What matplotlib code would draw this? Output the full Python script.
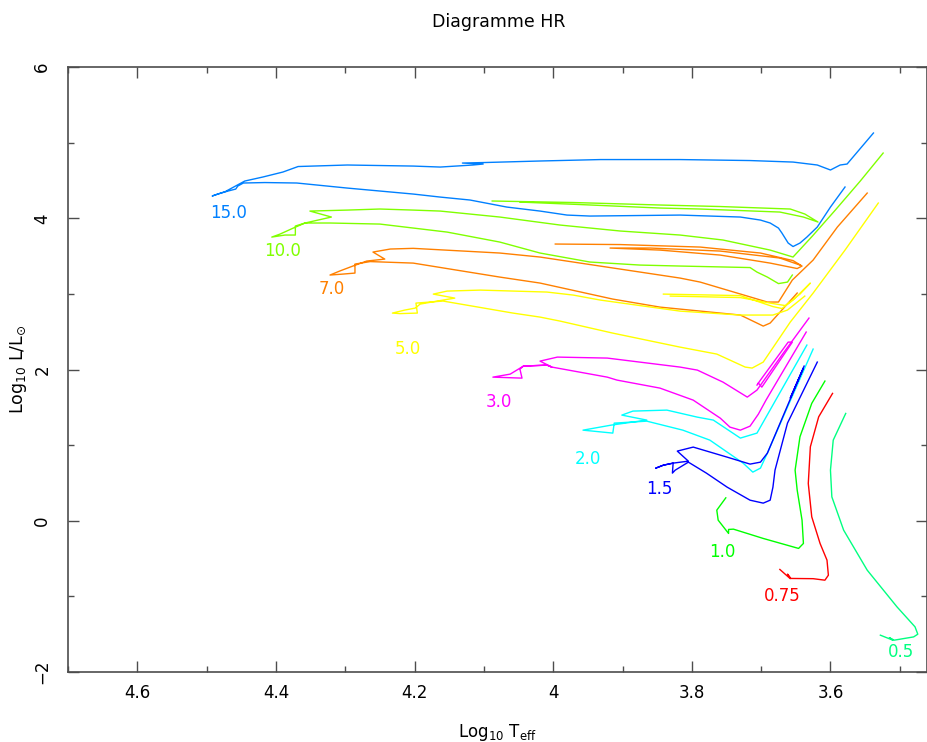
import matplotlib
matplotlib.use('Agg')
import matplotlib.pyplot as plt
from matplotlib.ticker import MultipleLocator, FuncFormatter

# masses of the tracks (labels)
masses = ['15.0', '10.0', '7.0', '5.0', '3.0', '2.0', '1.5', '1.0', '0.75', '0.5']
colors = ['#0080FF', '#80FF00', '#FF8000', '#FFFF00', '#FF00FF',
          '#00FFFF', '#0000FF', '#00FF00', '#FF0000', '#00FF80']

# label positions (log Teff, log L)
lab_t = [4.469, 4.390, 4.319, 4.209, 4.078, 3.950, 3.847, 3.756, 3.670, 3.498]
lab_l = [4.069, 3.566, 3.063, 2.270, 1.569, 0.815, 0.418, -0.415, -0.997, -1.738]

#########################
# 15.0
t15 = [3.579, 3.600, 3.619, 3.634, 3.644, 3.654, 3.661, 3.670, 3.675, 3.687, 3.701, 3.730,
       3.817, 3.947, 3.980, 4.019, 4.067, 4.120, 4.163, 4.202, 4.297, 4.370, 4.416, 4.447,
       4.455, 4.458, 4.469, 4.484, 4.492, 4.473, 4.445, 4.419, 4.390, 4.368, 4.297, 4.202,
       4.163, 4.116, 4.101, 4.131, 4.098, 4.019, 3.932, 3.817, 3.716, 3.654, 3.619, 3.600,
       3.586, 3.576, 3.538]
l15 = [4.413, 4.148, 3.884, 3.751, 3.672, 3.626, 3.672, 3.804, 3.870, 3.937, 3.976, 4.016,
       4.042, 4.029, 4.042, 4.095, 4.148, 4.241, 4.280, 4.320, 4.399, 4.466, 4.472, 4.466,
       4.426, 4.386, 4.360, 4.320, 4.294, 4.353, 4.492, 4.545, 4.611, 4.684, 4.704, 4.690,
       4.677, 4.704, 4.717, 4.730, 4.737, 4.757, 4.776, 4.776, 4.763, 4.743, 4.704, 4.638,
       4.704, 4.717, 5.127]
#########################
# 10.0
t10a = [3.655, 3.662, 3.675, 3.691, 3.706, 3.716, 3.817, 3.875, 3.947, 4.019, 4.077, 4.153,
        4.250, 4.322, 4.358, 4.372, 4.372, 4.387, 4.406, 4.394, 4.375, 4.358, 4.320, 4.351,
        4.297, 4.250, 4.202, 4.163, 4.077, 3.990, 3.903, 3.817, 3.755, 3.687, 3.654, 3.626,
        3.593, 3.557, 3.524]
l10a = [3.249, 3.156, 3.136, 3.222, 3.288, 3.348, 3.368, 3.381, 3.421, 3.540, 3.685, 3.817,
        3.923, 3.937, 3.937, 3.897, 3.778, 3.778, 3.751, 3.791, 3.870, 3.937, 4.016, 4.095,
        4.108, 4.122, 4.108, 4.095, 4.016, 3.910, 3.831, 3.778, 3.712, 3.579, 3.487, 3.765,
        4.108, 4.492, 4.862]
t10b = [4.088, 3.971, 3.846, 3.759, 3.658, 3.637, 3.618, 3.639, 3.673, 3.788, 3.846, 3.961, 4.048]
l10b = [4.228, 4.208, 4.175, 4.155, 4.122, 4.056, 3.950, 4.016, 4.082, 4.122, 4.135, 4.181, 4.214]
#########################
# 7.0
t7a = [3.648, 3.687, 3.697, 3.706, 3.730, 3.846, 3.914, 4.019, 4.077, 4.202, 4.264, 4.286,
       4.286, 4.303, 4.322, 4.308, 4.289, 4.269, 4.243, 4.260, 4.235, 4.202, 4.077, 4.019,
       3.817, 3.788, 3.691, 3.675, 3.655, 3.625, 3.590, 3.547]
l7a = [3.011, 2.614, 2.574, 2.614, 2.720, 2.825, 2.931, 3.143, 3.222, 3.407, 3.427, 3.394,
       3.275, 3.262, 3.249, 3.302, 3.368, 3.434, 3.460, 3.553, 3.593, 3.602, 3.540, 3.487,
       3.209, 3.156, 2.892, 2.892, 3.183, 3.447, 3.884, 4.333]
t7b = [3.997, 3.903, 3.788, 3.701, 3.654, 3.641, 3.648, 3.687, 3.759, 3.846, 3.918, 3.860,
       3.759, 3.673, 3.644]
l7b = [3.659, 3.652, 3.619, 3.540, 3.440, 3.368, 3.335, 3.407, 3.513, 3.579, 3.606, 3.606,
       3.566, 3.474, 3.381]
#########################
# 5.0
t5a = [3.531, 3.579, 3.625, 3.658, 3.697, 3.713, 3.723, 3.764, 3.817, 3.914, 3.990, 4.019,
       4.058, 4.159, 4.198, 4.196, 4.221, 4.232, 4.214, 4.199, 4.192, 4.159, 4.142, 4.173,
       4.153, 4.105, 4.009, 3.971, 3.932, 3.817, 3.730, 3.683, 3.662, 3.637]
l5a = [4.201, 3.579, 3.011, 2.627, 2.098, 2.019, 2.032, 2.204, 2.296, 2.481, 2.640, 2.693,
       2.746, 2.905, 2.878, 2.746, 2.739, 2.746, 2.786, 2.812, 2.865, 2.918, 2.944, 2.997,
       3.037, 3.050, 3.024, 2.984, 2.918, 2.772, 2.720, 2.720, 2.786, 2.971]
t5b = [3.841, 3.730, 3.683, 3.670, 3.654, 3.629, 3.644, 3.665, 3.687, 3.730, 3.831]
l5b = [2.997, 2.977, 2.832, 2.806, 2.918, 3.143, 2.997, 2.845, 2.878, 2.951, 2.971]
#########################
# 3.0
t3a = [3.635, 3.693, 3.704, 3.716, 3.730, 3.745, 3.759, 3.798, 3.846, 3.908, 3.922, 4.002,
       4.009, 4.043, 4.048, 4.045, 4.087, 4.062, 4.043, 4.009, 4.002, 4.019, 3.994, 3.922,
       3.817, 3.792, 3.755, 3.720, 3.706, 3.668, 3.631]
l3a = [2.495, 1.595, 1.410, 1.251, 1.198, 1.238, 1.357, 1.595, 1.754, 1.860, 1.899, 2.032,
       2.058, 2.045, 2.005, 1.886, 1.899, 1.939, 2.045, 2.058, 2.032, 2.111, 2.164, 2.151,
       2.032, 1.992, 1.833, 1.635, 1.728, 2.217, 2.680]
t3b = [3.704, 3.699, 3.655, 3.661, 3.701, 3.706]
l3b = [1.820, 1.767, 2.362, 2.362, 1.860, 1.794]
#########################
# 2.0
t2 = [3.625, 3.662, 3.691, 3.701, 3.712, 3.726, 3.774, 3.813, 3.865, 3.912, 3.914, 3.957,
      3.916, 3.865, 3.901, 3.885, 3.836, 3.792, 3.769, 3.730, 3.706, 3.634]
l2 = [2.270, 1.503, 0.894, 0.696, 0.643, 0.762, 1.066, 1.198, 1.317, 1.291, 1.159, 1.198,
      1.265, 1.331, 1.397, 1.450, 1.463, 1.370, 1.331, 1.093, 1.159, 2.323]
#########################
# 1.5
t1_5 = [3.619, 3.662, 3.680, 3.683, 3.687, 3.697, 3.716, 3.749, 3.779, 3.805, 3.824, 3.828,
        3.827, 3.841, 3.852, 3.841, 3.827, 3.805, 3.821, 3.798, 3.749, 3.716, 3.701, 3.691,
        3.639, 3.658, 3.638]
l1_5 = [2.098, 1.291, 0.669, 0.444, 0.272, 0.233, 0.272, 0.444, 0.630, 0.775, 0.669, 0.630,
        0.762, 0.735, 0.696, 0.735, 0.762, 0.788, 0.921, 0.974, 0.841, 0.749, 0.775, 0.894,
        2.019, 1.622, 2.045]
#########################
# 1.0
t1 = [3.751, 3.764, 3.762, 3.747, 3.747, 3.740, 3.697, 3.646, 3.639, 3.641, 3.648, 3.651,
      3.644, 3.627, 3.608]
l1 = [0.303, 0.140, 0.008, -0.168, -0.115, -0.111, -0.234, -0.366, -0.300, 0.008, 0.405,
      0.669, 1.110, 1.552, 1.847]
#########################
# 0.75
t075 = [3.673, 3.658, 3.662, 3.657, 3.625, 3.608, 3.603, 3.605, 3.615, 3.627, 3.632, 3.629,
        3.617, 3.597]
l075 = [-0.644, -0.766, -0.706, -0.763, -0.766, -0.786, -0.720, -0.521, -0.300, 0.052,
        0.493, 0.978, 1.374, 1.684]
#########################
# 0.5
t05 = [3.528, 3.510, 3.515, 3.508, 3.480, 3.474, 3.478, 3.504, 3.547, 3.581, 3.598, 3.600,
       3.596, 3.578]
l05 = [-1.513, -1.579, -1.546, -1.579, -1.536, -1.500, -1.403, -1.139, -0.653, -0.124,
       0.316, 0.669, 1.066, 1.419]

# pieces of each track, same order as masses
tracks = [[(t15, l15)],
          [(t10a, l10a), (t10b, l10b)],
          [(t7a, l7a), (t7b, l7b)],
          [(t5a, l5a), (t5b, l5b)],
          [(t3a, l3a), (t3b, l3b)],
          [(t2, l2)],
          [(t1_5, l1_5)],
          [(t1, l1)],
          [(t075, l075)],
          [(t05, l05)]]

plt.rcParams['font.family'] = ['DejaVu Sans']
fig = plt.figure(figsize=(9.28, 7.42), dpi=100)
ax = fig.add_axes([68/928, 70/742, 859.5/928, 605/742])

for pieces, col, m, xt, yt in zip(tracks, colors, masses, lab_t, lab_l):
    for tt, ll in pieces:
        ax.plot(tt, ll, color=col, lw=1.0)
    ax.text(xt, yt, m, color=col, fontsize=12, ha='center', va='center')

ax.set_xlim(4.7, 3.46)
ax.set_ylim(-2, 6)
ax.xaxis.set_major_locator(MultipleLocator(0.2))
ax.xaxis.set_minor_locator(MultipleLocator(0.1))
ax.yaxis.set_major_locator(MultipleLocator(2))
ax.yaxis.set_minor_locator(MultipleLocator(1))
ax.xaxis.set_major_formatter(FuncFormatter(lambda v, p: '%g' % round(v, 1)))
ax.tick_params(which='both', direction='in', top=True, right=True, color='0.3', width=1)
ax.tick_params(which='major', length=8, labelsize=12, pad=9)
ax.tick_params(which='minor', length=4)
ax.tick_params(axis='y', pad=12)
for lab in ax.get_yticklabels():
    lab.set_rotation(90)
    lab.set_va('center')
for s in ax.spines.values():
    s.set_color('0.3')
    s.set_linewidth(1.2)

ax.set_xlabel(r'Log$_{10}$ T$_{\rm eff}$', fontsize=12, labelpad=14)
ax.set_ylabel(r'Log$_{10}$ L/L$_{\odot}$', fontsize=12.5, labelpad=3)
fig.text(0.537, 1 - 22/742, 'Diagramme HR', fontsize=12.5, ha='center', va='center')

plt.savefig('out.png', dpi=100)
